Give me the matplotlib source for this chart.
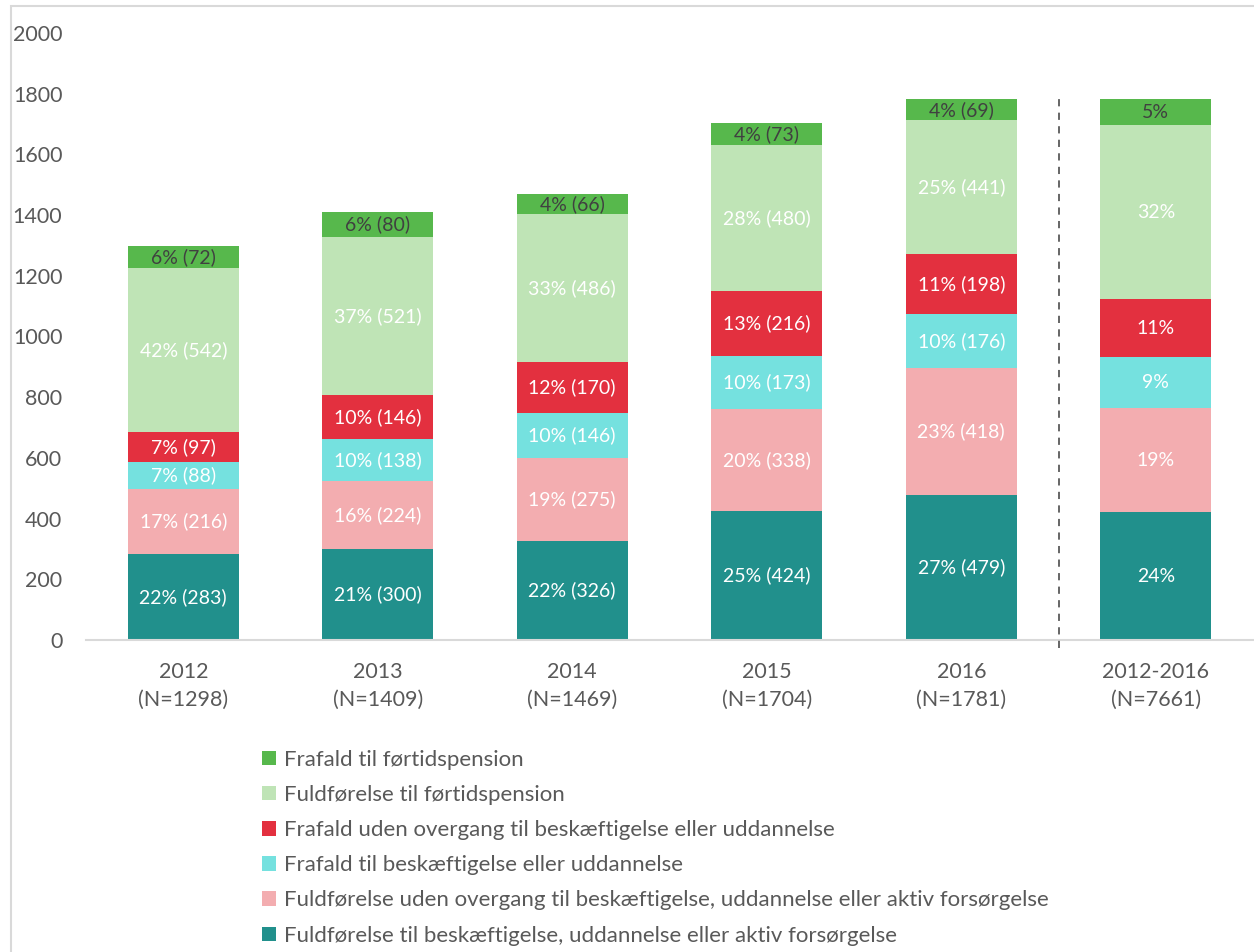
import matplotlib
matplotlib.use("Agg")
import matplotlib.pyplot as plt
from matplotlib.patches import Rectangle, Patch
import numpy as np

plt.rcParams['font.family'] = ['Lato', 'DejaVu Sans']

categories = ["2012\n(N=1298)", "2013\n(N=1409)", "2014\n(N=1469)",
              "2015\n(N=1704)", "2016\n(N=1781)", "2012-2016\n(N=7661)"]

series_names = [
    "Fuldførelse til beskæftigelse, uddannelse eller aktiv forsørgelse",
    "Fuldførelse uden overgang til beskæftigelse, uddannelse eller aktiv forsørgelse",
    "Frafald til beskæftigelse eller uddannelse",
    "Frafald uden overgang til beskæftigelse eller uddannelse",
    "Fuldførelse til førtidspension",
    "Frafald til førtidspension",
]
colors = ["#21908C", "#F3ADB0", "#75E1DF", "#E3303F", "#BFE4B6", "#57B84C"]
label_colors = ["white", "white", "white", "white", "white", "#404040"]

# counts per year (2012..2016) and heights of the combined bar (scaled to 2016 height)
fuld_besk = [283, 300, 326, 424, 479, 421]
fuld_uden = [216, 224, 275, 338, 418, 342]
fraf_besk = [88, 138, 146, 173, 176, 168]
fraf_uden = [97, 146, 170, 216, 198, 192]
fuld_fp = [542, 521, 486, 480, 441, 574]
fraf_fp = [72, 80, 66, 73, 69, 84]

pct_fuld_besk = [22, 21, 22, 25, 27, 24]
pct_fuld_uden = [17, 16, 19, 20, 23, 19]
pct_fraf_besk = [7, 10, 10, 10, 10, 9]
pct_fraf_uden = [7, 10, 12, 13, 11, 11]
pct_fuld_fp = [42, 37, 33, 28, 25, 32]
pct_fraf_fp = [6, 6, 4, 4, 4, 5]

values = [fuld_besk, fuld_uden, fraf_besk, fraf_uden, fuld_fp, fraf_fp]
pcts = [pct_fuld_besk, pct_fuld_uden, pct_fraf_besk, pct_fraf_uden, pct_fuld_fp, pct_fraf_fp]

W, H = 1254, 952
fig = plt.figure(figsize=(W / 100, H / 100), dpi=100)
ax = fig.add_axes([86 / W, 1 - 640 / H, (1253 - 86) / W, (640 - 33) / H])

x = np.arange(len(categories))
bottom = np.zeros(len(categories))
for i, (vals, pc) in enumerate(zip(values, pcts)):
    vals = np.array(vals, dtype=float)
    ax.bar(x, vals, width=0.57, bottom=bottom, color=colors[i], label=series_names[i], zorder=2)
    for j in range(len(categories)):
        if j == len(categories) - 1:
            txt = f"{pc[j]}%"
        else:
            txt = f"{pc[j]}% ({int(vals[j])})"
        ax.text(x[j], bottom[j] + vals[j] / 2, txt, ha="center", va="center",
                color=label_colors[i], fontsize=14, zorder=3)
    bottom += vals

ax.set_xlim(-0.5, 5.5)
ax.set_ylim(0, 2000)
ax.set_yticks(np.arange(0, 2001, 200))
ax.set_xticks(x)
ax.set_xticklabels(categories, fontsize=15.5, color="#595959", linespacing=1.5)
ax.tick_params(axis="y", length=0, pad=17, labelsize=15.5, labelcolor="#595959")
ax.tick_params(axis="x", length=0, pad=16)
for s in ["top", "right", "left"]:
    ax.spines[s].set_visible(False)
ax.spines["bottom"].set_color("#D9D9D9")
ax.spines["bottom"].set_linewidth(1.5)

# separator line
ax.plot([4.5, 4.5], [-27, bottom[4]], color="#595959", lw=1.3, linestyle=(0, (4, 3.5)),
        clip_on=False, zorder=3)

# chart area border
fig.patches.append(Rectangle((11 / W, -0.1), 1.2, 1 - 6 / H + 0.1, transform=fig.transFigure,
                             fill=False, edgecolor="#D9D9D9", lw=1.5))

handles = [Patch(facecolor=colors[i], edgecolor="none") for i in range(6)][::-1]
labels = series_names[::-1]
fig.legend(handles, labels, loc="upper left", bbox_to_anchor=(262 / W, 1 - 750 / H),
           frameon=False, fontsize=16, labelcolor="#595959", handlelength=0.62,
           handleheight=0.62, handletextpad=0.38, labelspacing=0.68, borderaxespad=0,
           borderpad=0)

fig.savefig("out.png", dpi=100)
